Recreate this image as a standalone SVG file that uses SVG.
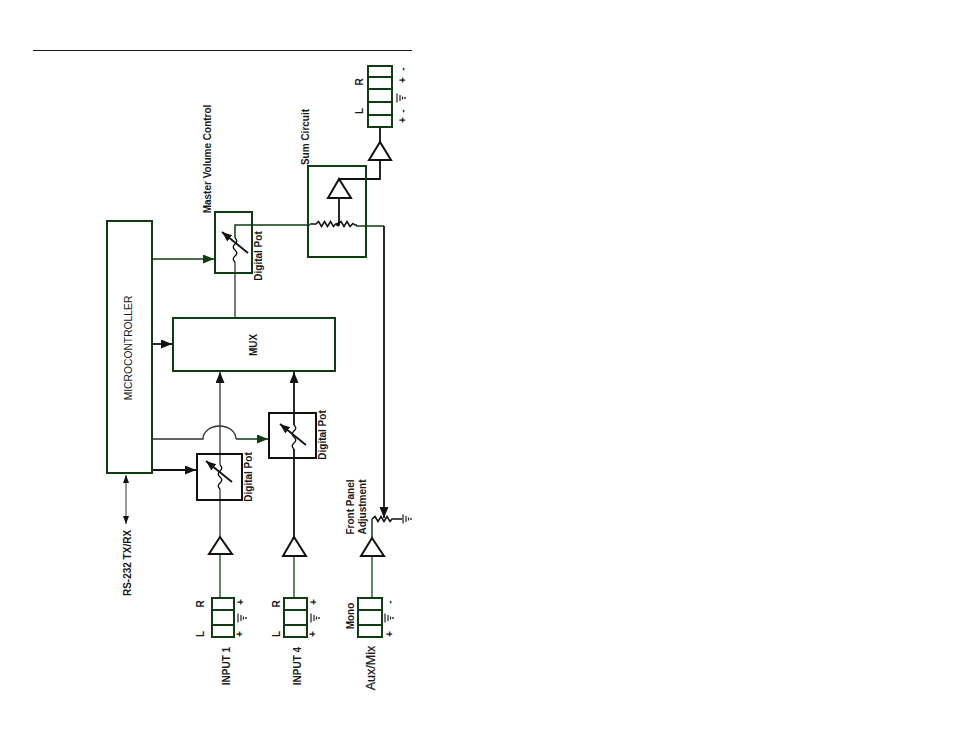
<svg xmlns="http://www.w3.org/2000/svg" width="954" height="737" viewBox="0 0 954 737">
<style>
text{font-family:"Liberation Sans",Arial,sans-serif;font-size:10px;fill:#1a1a1a;text-anchor:middle}
.b{font-weight:bold}
.box{fill:none;stroke:#0f3d12;stroke-width:2}
.bk{fill:none;stroke:#111;stroke-width:2}
.w{fill:none;stroke:#111;stroke-width:1.800}
.t{fill:none;stroke:#333;stroke-width:1.300}
.g{fill:none;stroke:#2f5f32;stroke-width:1.500}
.dg{fill:none;stroke:#0f3d12;stroke-width:1.500}
.tri{fill:#fff;stroke:#111;stroke-width:2}
.r{fill:none;stroke:#111;stroke-width:1.500}
</style>
<defs>
<marker id="ak" markerUnits="userSpaceOnUse" markerWidth="12" markerHeight="10" refX="11" refY="4.500" orient="auto"><path d="M0,0L11,4.500L0,9z" fill="#111"/></marker>
<marker id="ag" markerUnits="userSpaceOnUse" markerWidth="12" markerHeight="10" refX="11" refY="4.500" orient="auto"><path d="M0,0L11,4.500L0,9z" fill="#0f3d12"/></marker>
<marker id="as" markerUnits="userSpaceOnUse" markerWidth="9" markerHeight="8" refX="8" refY="3" orient="auto-start-reverse"><path d="M0,0L8,3L0,6z" fill="#111"/></marker>
<marker id="ap" markerUnits="userSpaceOnUse" markerWidth="11" markerHeight="10" refX="10" refY="4" orient="auto"><path d="M0,0L10,4L0,8z" fill="#111"/></marker>
<g id="gnd"><path d="M0,-4.500V4.500M3,-3V3M5.500,-1.500V1.500" fill="none" stroke="#222" stroke-width="1.200"/><circle cx="8" cy="0" r=".9" fill="#222"/></g>
<path id="sq" d="M0,0q3.500,3 0,6q-3.500,3 0,6q3.500,3 0,6q-3.500,3 0,6" fill="none" stroke="#111" stroke-width="1.400"/>
</defs>
<path d="M33,50.500H412" stroke="#1a1a1a" stroke-width="1" fill="none"/>
<g id="connectors">
<path class="dg" d="M152,259H214" marker-end="url(#ag)"/>
<path class="w" d="M152,344H172" marker-end="url(#ak)"/>
<path class="w" d="M152,470H196" marker-end="url(#ak)"/>
<path class="t" d="M152,439H203a16.500,13 0 0 1 33,0"/>
<path class="dg" d="M236,439H268" marker-end="url(#ag)"/>
<path d="M126,475V524" fill="none" stroke="#333" stroke-width="1" marker-start="url(#as)" marker-end="url(#as)"/>
<path class="t" d="M220,537V489M220,465V372" marker-end="url(#ak)"/>
<path class="w" d="M294,537V449M294,425V372" marker-end="url(#ak)"/>
<path class="g" d="M220,554V598"/>
<path class="g" d="M294,556V598"/>
<path class="g" d="M372,556V598"/>
<path class="t" d="M235,318V262"/>
<path class="dg" d="M235,238V225H310"/>
<path class="dg" d="M356,226H384"/>
<path class="w" d="M384,226V518" marker-end="url(#ak)"/>
<path class="w" d="M339,179H380V160"/>
<path class="w" d="M380,142V127"/>
<path class="w" d="M339,198V225"/>
<path class="dg" d="M372,538V519"/>
</g>
<g id="microcontroller"><rect class="box" x="107" y="221" width="45" height="252"/><text transform="translate(132,348) rotate(-90)" style="font-size:10.300px">MICROCONTROLLER</text></g>
<g id="mux"><rect class="box" x="173" y="318" width="162" height="53"/><text class="b" transform="translate(257,345) rotate(-90)">MUX</text></g>
<g id="master-pot"><rect class="box" x="215" y="212" width="37" height="61"/>
<use href="#sq" x="235" y="238"/>
<path class="w" d="M248,253L222,232" marker-end="url(#ap)"/>
<text class="b" transform="translate(262,256) rotate(-90)">Digital Pot</text>
<text class="b" transform="translate(211,159) rotate(-90)">Master Volume Control</text></g>
<g id="sum-circuit"><rect class="box" x="308" y="166" width="58" height="91"/>
<path class="r" d="M310,224H316l2.500,-2.500l3,5l3,-5l3,5l3,-5l3,5l2,-2.500h3l2.500,-2.500l3,5l3,-5l3,5l3,-3l2,1.500h2"/>
<circle cx="338" cy="224.500" r="2" fill="#111"/>
<polygon class="tri" points="339,179 328,198 351,198"/>
<text class="b" transform="translate(309,137) rotate(-90)">Sum Circuit</text></g>
<g id="output-amp"><polygon class="tri" points="380,142 369,160 391,160"/></g>
<g id="output-connector"><path class="box" d="M368,66H392V127H368ZM368,77H392M368,89H392M368,102H392M368,115H392"/>
<text class="b" transform="translate(363,82) rotate(-90)">R</text><text class="b" transform="translate(363,111) rotate(-90)">L</text>
<use href="#gnd" x="397" y="98"/>
<text class="b" transform="translate(406,69) rotate(-90)">-</text><text class="b" transform="translate(406,80) rotate(-90)">+</text>
<text class="b" transform="translate(406,111) rotate(-90)">-</text><text class="b" transform="translate(406,120) rotate(-90)">+</text></g>
<g id="pot-1"><rect class="bk" x="197" y="454" width="45" height="46"/>
<use href="#sq" x="220" y="465"/>
<path class="w" d="M232,482L206,461" marker-end="url(#ap)"/>
<text class="b" transform="translate(252,477) rotate(-90)">Digital Pot</text></g>
<g id="pot-4"><rect class="bk" x="269" y="413" width="47" height="45"/>
<use href="#sq" x="294" y="425"/>
<path class="w" d="M306,445L280,424" marker-end="url(#ap)"/>
<text class="b" transform="translate(326,435) rotate(-90)">Digital Pot</text></g>
<g id="amp-1"><polygon class="tri" points="220,537 209,554 232,554"/></g>
<g id="amp-4"><polygon class="tri" points="294,537 283,556 306,556"/></g>
<g id="amp-aux"><polygon class="tri" points="372,538 361,556 384,556"/></g>
<g id="front-panel">
<path class="r" d="M372,519l3,-2.500l3,5l3,-5l3,5l3,-5l3,5l2,-2.500H402"/>
<use href="#gnd" x="403" y="519"/>
<text class="b" transform="translate(354,507) rotate(-90)">Front Panel</text>
<text class="b" transform="translate(366,507) rotate(-90)">Adjustment</text></g>
<g id="input-1"><path class="box" d="M212,598H234V637H212ZM212,610H234M212,625H234"/>
<text class="b" transform="translate(204,604) rotate(-90)">R</text><text class="b" transform="translate(204,634) rotate(-90)">L</text>
<use href="#gnd" x="238" y="618"/>
<text class="b" transform="translate(244,602) rotate(-90)">+</text><text class="b" transform="translate(243,634) rotate(-90)">+</text>
<text class="b" transform="translate(230,666) rotate(-90)">INPUT 1</text></g>
<g id="input-4"><path class="box" d="M284,598H307V637H284ZM284,610H307M284,625H307"/>
<text class="b" transform="translate(280,604) rotate(-90)">R</text><text class="b" transform="translate(280,634) rotate(-90)">L</text>
<use href="#gnd" x="311" y="618"/>
<text class="b" transform="translate(317,602) rotate(-90)">+</text><text class="b" transform="translate(316,634) rotate(-90)">+</text>
<text class="b" transform="translate(301,666) rotate(-90)">INPUT 4</text></g>
<g id="aux"><path class="box" d="M358,598H382V637H358ZM358,610H382M358,625H382"/>
<use href="#gnd" x="385" y="618"/>
<text class="b" transform="translate(393,602) rotate(-90)">-</text><text class="b" transform="translate(393,634) rotate(-90)">+</text>
<text class="b" transform="translate(354,616) rotate(-90)">Mono</text>
<text transform="translate(375,668) rotate(-90)" style="font-size:12.500px;stroke:#1a1a1a;stroke-width:.25">Aux/Mix</text></g>
<g id="rs232"><text class="b" transform="translate(131,563) rotate(-90)">RS-232 TX/RX</text></g>
</svg>
